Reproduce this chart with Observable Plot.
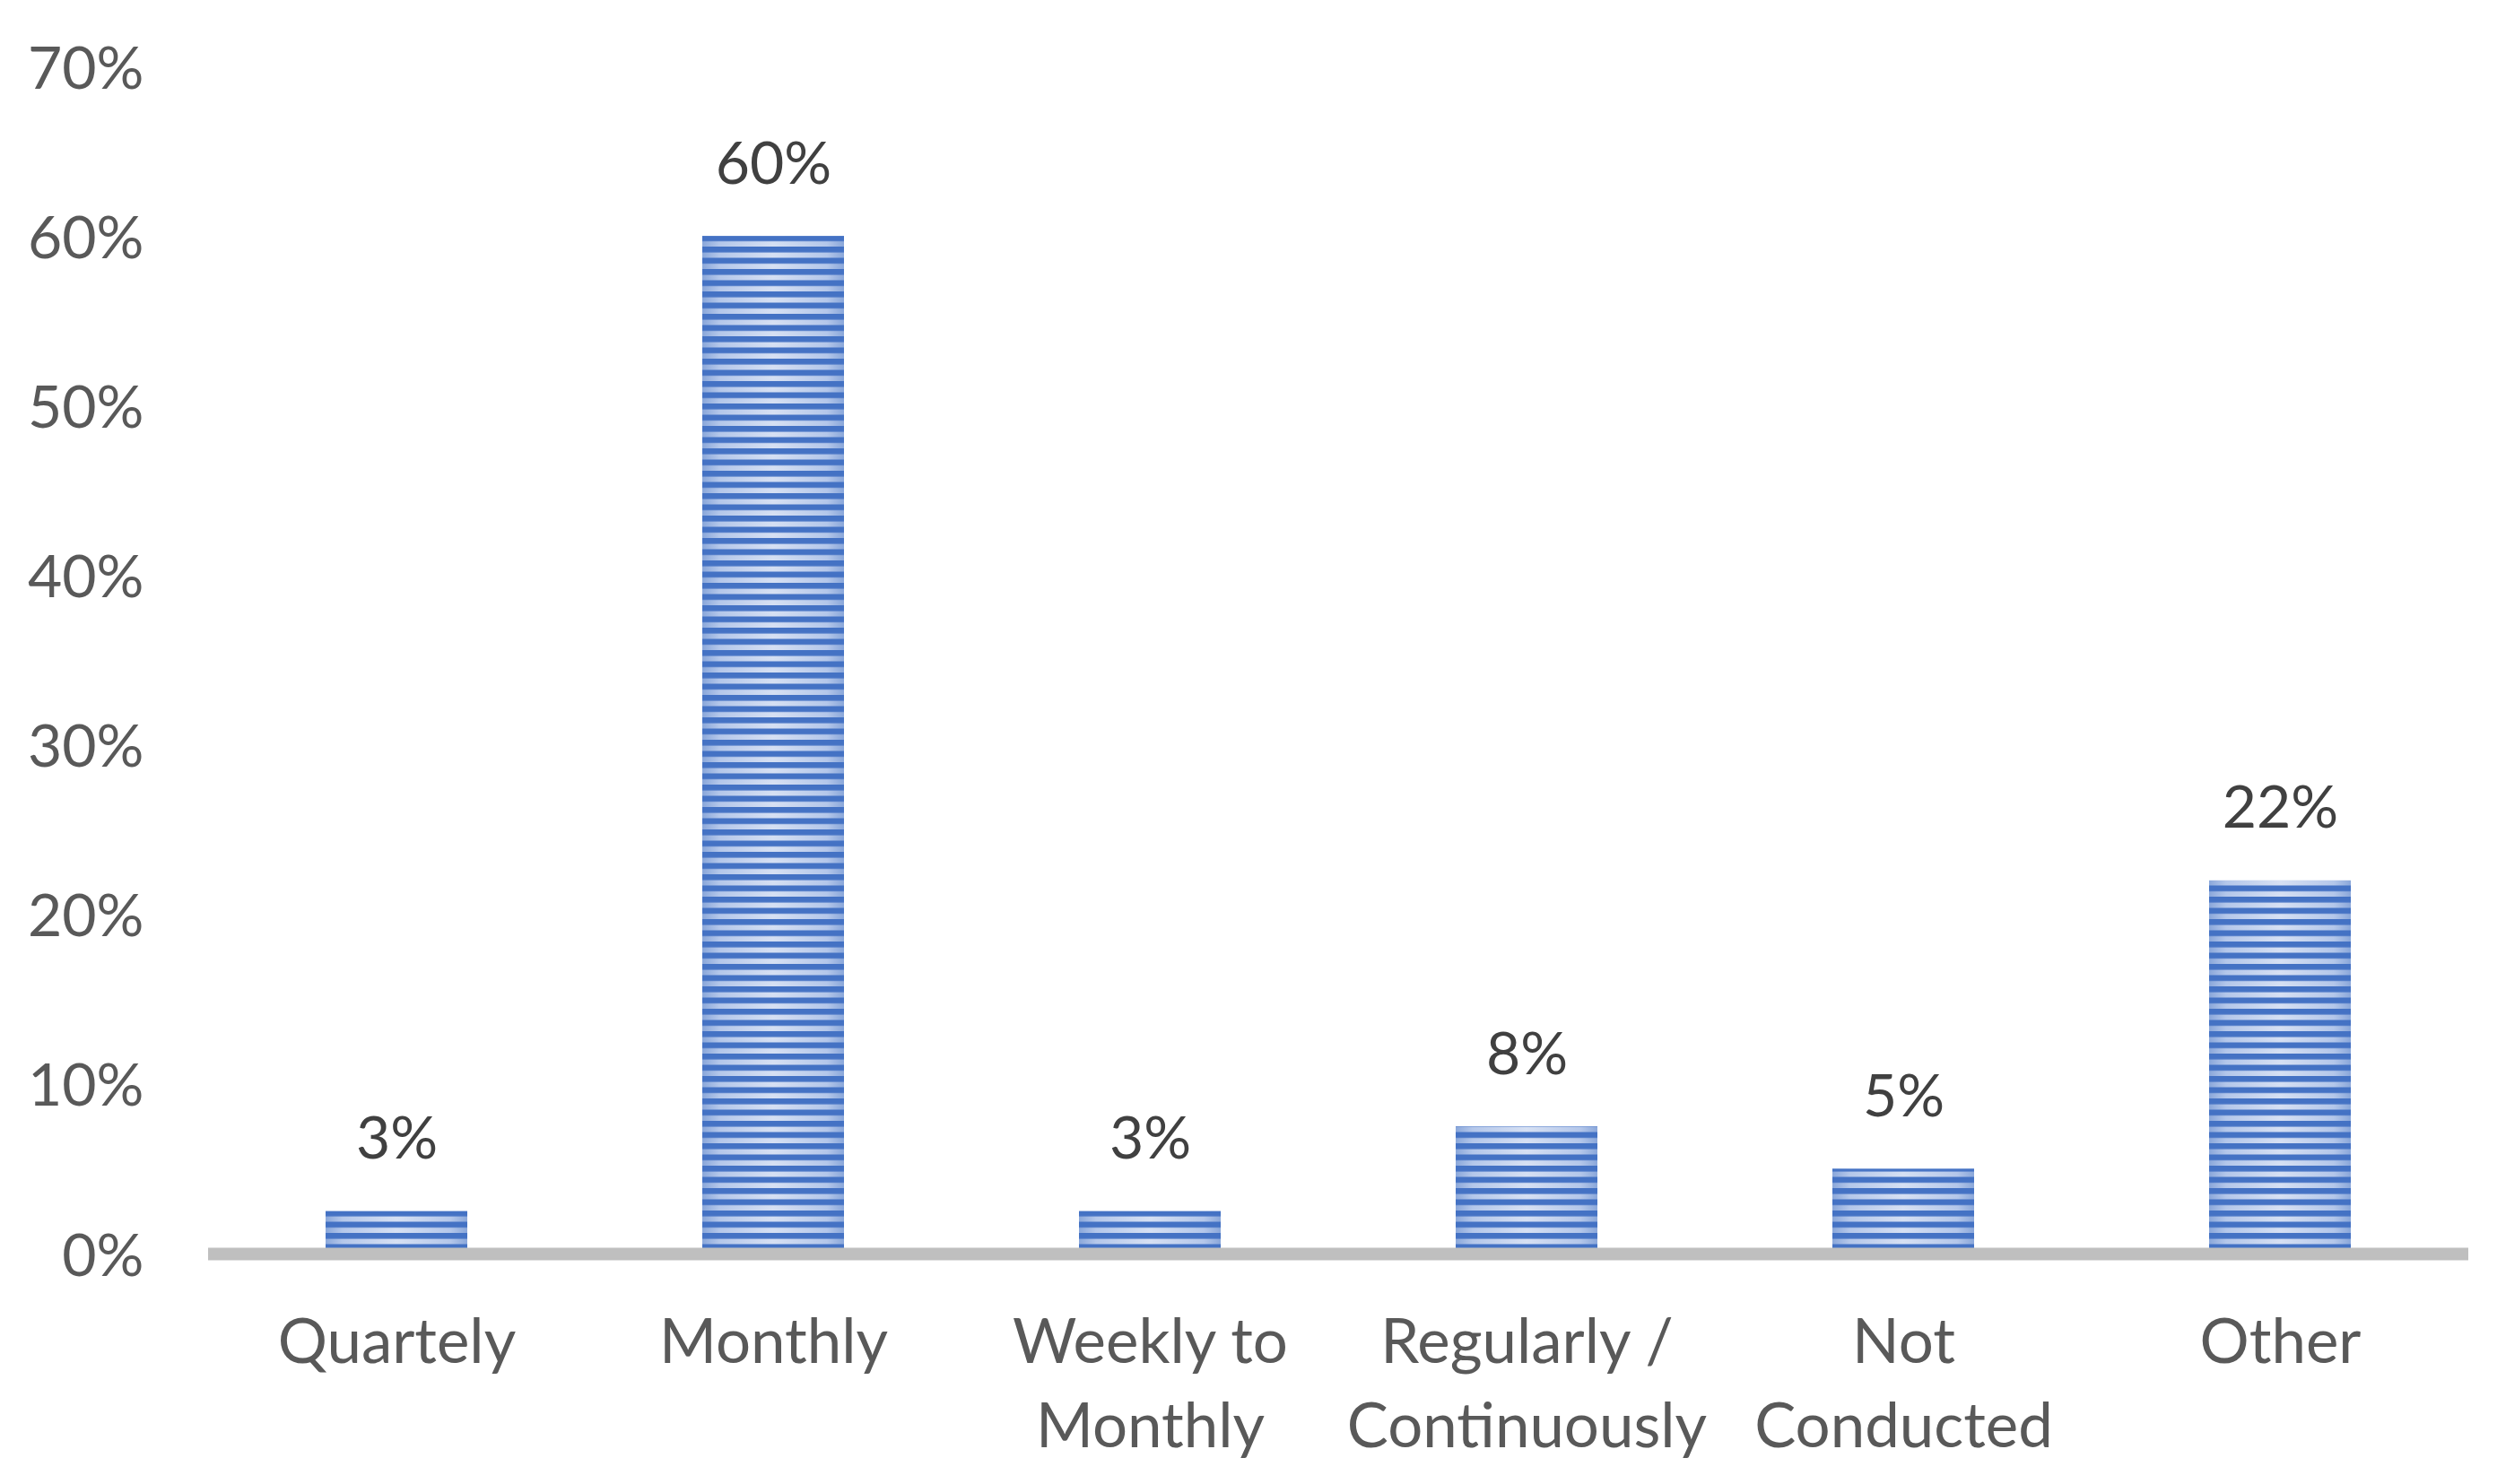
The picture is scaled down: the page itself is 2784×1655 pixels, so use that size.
<!DOCTYPE html>
<html>
<head>
<meta charset="utf-8">
<script src="https://cdn.jsdelivr.net/npm/d3@7"></script>
<script src="https://cdn.jsdelivr.net/npm/@observablehq/plot@0.6"></script>
<style>
  html, body { margin: 0; padding: 0; background: #ffffff; }
  #chart svg { display: block; }
</style>
</head>
<body>
<div id="chart"></div>
<script>
const categories = ["Quartely", "Monthly", "Weekly to\nMonthly", "Regularly /\nContinuously", "Not\nConducted", "Other"];
const values = [2.5, 60, 2.5, 7.5, 5, 22];
const valueLabels = ["3%", "60%", "3%", "8%", "5%", "22%"];
const yTicks = [0, 10, 20, 30, 40, 50, 60, 70];

const data = categories.map((c, i) => ({category: c, value: values[i], label: valueLabels[i]}));

const FONT = "Lato, 'Open Sans', sans-serif";

const svg = Plot.plot({
  width: 2784,
  height: 1655,
  marginLeft: 232,
  marginRight: 32,
  marginTop: 74,
  marginBottom: 257,
  style: {fontFamily: FONT, background: "#ffffff"},
  x: {domain: categories, paddingInner: 0.624, paddingOuter: 0.31, label: null},
  y: {domain: [0, 70], ticks: yTicks, label: null},
  marks: [
    Plot.barY(data, {x: "category", y: "value", fill: "url(#barGrad)"}),
    Plot.barY(data, {x: "category", y: "value", fill: "url(#barStripes)"}),
    Plot.ruleY([0], {stroke: "#bfbfbf", strokeWidth: 14}),
    Plot.text(data, {x: "category", y: "value", text: "label", dy: -59, lineAnchor: "bottom",
      fontSize: 66, fill: "#404040", fontFamily: FONT}),
    Plot.axisY({ticks: yTicks, tickSize: 0, tickPadding: 72, tickFormat: d => d + "%",
      fontSize: 66, fill: "#595959", dy: 3}),
    Plot.axisX({tickSize: 0, tickPadding: 55, fontSize: 69, fill: "#595959", lineHeight: 1.36})
  ]
});

const defs = d3.select(svg).insert("defs", ":first-child");
const grad = defs.append("linearGradient").attr("id", "barGrad")
  .attr("x1", "0").attr("x2", "1").attr("y1", "0").attr("y2", "0");
[["0%", "#8aa7da"], ["12%", "#b4c7ea"], ["50%", "#d6e0f3"], ["88%", "#b4c7ea"], ["100%", "#8aa7da"]]
  .forEach(([o, c]) => grad.append("stop").attr("offset", o).attr("stop-color", c));
const pat = defs.append("pattern").attr("id", "barStripes")
  .attr("patternUnits", "userSpaceOnUse").attr("x", 0).attr("y", 0)
  .attr("width", 20).attr("height", 12.5);
pat.append("rect").attr("x", 0).attr("y", 0).attr("width", 20).attr("height", 6.5).attr("fill", "#4472c4");

document.getElementById("chart").appendChild(svg);
</script>
</body>
</html>
